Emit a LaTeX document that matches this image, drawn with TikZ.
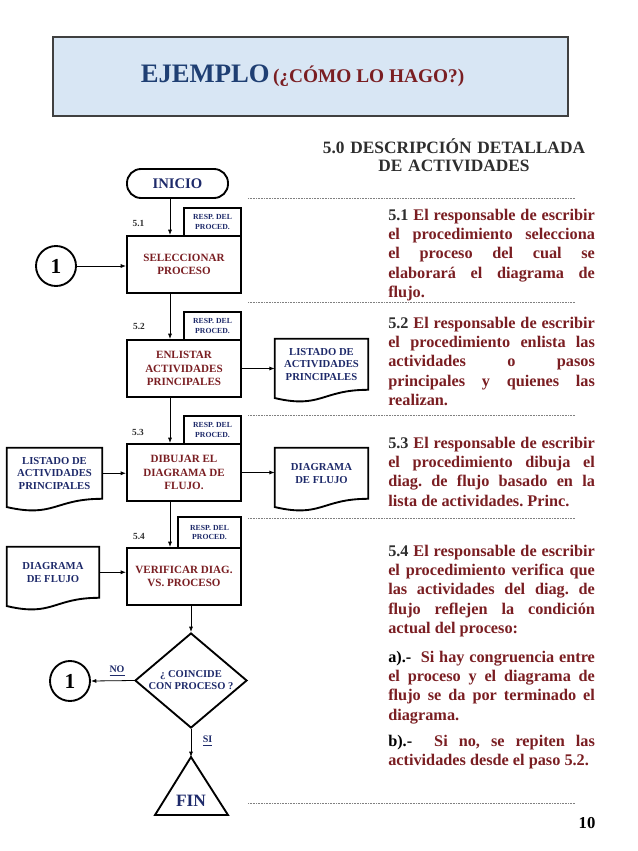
\documentclass[tikz,border=0pt]{standalone}
\usepackage{fontspec}
\setmainfont{Liberation Serif}
\usetikzlibrary{shapes.geometric,arrows.meta,calc}
\definecolor{navy}{HTML}{1E2A6A}
\definecolor{dred}{HTML}{7A1E22}
\definecolor{tblue}{HTML}{1F3F73}
\definecolor{hfill}{HTML}{D8E6F4}
\definecolor{numgray}{HTML}{2E2E2E}
\newcommand\docpath[1]{\draw[line width=1.4pt] (#1.north west) -- (#1.north east) -- (#1.south east) .. controls (#1.south) and ([yshift=-14.4pt]#1.south) .. ([yshift=-6.2pt]#1.south west) -- cycle;}
\tolerance=10000 \hbadness=10000 \hyphenpenalty=10000
\frenchspacing
\begin{document}
\begin{tikzpicture}[x=0.75pt,y=-0.75pt,
  box/.style={draw, line width=1.4pt, fill=white, minimum width=85.5pt, minimum height=42.75pt, inner sep=1pt, align=center, font=\bfseries\fontsize{8.3}{10}\selectfont, text=dred},
  resp/.style={draw, line width=1.3pt, fill=white, minimum width=42.75pt, minimum height=21pt, inner sep=0.5pt, align=center, font=\bfseries\fontsize{5.8}{7.4}\selectfont, text=navy},
  docn/.style={minimum height=37.9pt, inner sep=0, align=center, font=\bfseries\fontsize{8}{9.4}\selectfont, text=navy},
  arr/.style={-{Latex[length=4pt,width=3pt]}, line width=0.6pt},
  numlbl/.style={font=\bfseries\fontsize{7}{8}\selectfont, text=numgray},
  para/.style={anchor=base west, text width=155pt, align=justify, inner sep=0, font=\bfseries\fontsize{12.2}{14.6}\selectfont, text=dred},
  dots/.style={line width=0.5pt, gray, dash pattern=on 0.5pt off 0.7pt},
  conn/.style={circle, draw, line width=1.4pt, minimum size=30pt, inner sep=0, font=\bfseries\fontsize{16}{18}\selectfont},
  ylbl/.style={font=\bfseries\fontsize{7.5}{9}\selectfont, text=navy}
]
\useasboundingbox (0,0) rectangle (638,851);
% header
\node[draw=darkgray, line width=0.8pt, fill=hfill, minimum width=386.25pt, minimum height=59.25pt, inner sep=0] (hdr) at (310.5,76.5) {};
\node[anchor=base, inner sep=0] (title) at (302.5,82) {\bfseries{\fontsize{20}{24}\selectfont\color{tblue}EJEMPLO} {\fontsize{14.5}{16}\selectfont\color{dred}(¿CÓMO LO HAGO?)}};
% heading
\node[anchor=base, text width=210pt, align=center, inner sep=0, font=\bfseries\fontsize{13}{13.5}\selectfont, text=numgray] (h50) at (454,153) {5.0 DESCRIPCIÓN DETALLADA\\DE ACTIVIDADES};
% dotted separators
\foreach \yy in {198,302,415,518,803} \draw[dots] (248,\yy) -- (575,\yy);
% flowchart
\coordinate (ax) at (170,0);
\node[draw, rounded corners=10.5pt, minimum width=75.75pt, minimum height=21.75pt, line width=1.4pt, font=\bfseries\fontsize{11}{12}\selectfont, text=navy] (inicio) at (177.5,183.5) {INICIO};
\node[box] (sel) at (184,264.5) {SELECCIONAR\\PROCESO};
\node[resp] (r1) at (212.5,222) {RESP. DEL\\PROCED.};
\node[numlbl] (n1) at (138.5,223) {5.1};
\node[box] (enl) at (184,368.5) {ENLISTAR\\ACTIVIDADES\\PRINCIPALES};
\node[resp] (r2) at (212.5,326) {RESP. DEL\\PROCED.};
\node[numlbl] (n2) at (139,326) {5.2};
\node[box] (dib) at (184,472.5) {DIBUJAR EL\\DIAGRAMA DE\\FLUJO.};
\node[resp] (r3) at (212.5,430) {RESP. DEL\\PROCED.};
\node[numlbl] (n3) at (138,432) {5.3};
\node[box] (ver) at (184,576.5) {VERIFICAR DIAG.\\VS. PROCESO};
\node[resp, minimum width=47.25pt, minimum height=23.25pt] (r4) at (209.5,532.5) {RESP. DEL\\PROCED.};
\node[numlbl] (n4) at (139,536) {5.4};
\node[conn] (c1) at (56,266) {1};
\node[docn, minimum width=69.75pt] (dR1) at (321.5,364.25) {LISTADO DE\\ACTIVIDADES\\PRINCIPALES};
\docpath{dR1}
\node[docn, minimum width=71.25pt] (dL1) at (54.5,473.25) {LISTADO DE\\ACTIVIDADES\\PRINCIPALES};
\docpath{dL1}
\node[docn, minimum width=69.75pt] (dR2) at (321.5,473.25) {DIAGRAMA\\DE FLUJO};
\docpath{dR2}
\node[docn, minimum width=69pt] (dL2) at (53,572.25) {DIAGRAMA\\DE FLUJO};
\docpath{dL2}
\node[diamond, draw, line width=1.4pt, minimum width=84pt, minimum height=71.25pt, inner sep=0] (dia) at (191,680.5) {};
\node[align=center, inner sep=0, font=\bfseries\fontsize{7.9}{9}\selectfont, text=navy] (diat) at (dia.center) {¿ COINCIDE\\CON PROCESO ?};
\node[conn] (c2) at (70,681) {1};
\coordinate (fintop) at (191,757);
\coordinate (finr) at (228,815);
\coordinate (finl) at (155,815);
\draw[line width=1.4pt] (fintop) -- (finr) -- (finl) -- cycle;
\node[font=\bfseries\fontsize{13}{14}\selectfont, text=navy] (fin) at (191,801) {FIN};
\node[ylbl] (no) at (117,671) {\underline{NO}};
\node[ylbl] (si) at (207.5,741) {\underline{SI}};
% connectors
\draw[arr] (inicio.south -| ax) -- (sel.north -| ax);
\draw[arr] (c1) -- (sel.west |- c1);
\draw[arr] (sel.south -| ax) -- (enl.north -| ax);
\draw[arr] (enl.east) -- (enl.east -| dR1.west);
\draw[arr] (enl.south -| ax) -- (dib.north -| ax);
\draw[arr] (dL1.east) -- (dL1.east -| dib.west);
\draw[arr] (dib.east) -- (dib.east -| dR2.west);
\draw[arr] (dib.south -| ax) -- (ver.north -| ax);
\draw[arr] (dL2.east) -- (dL2.east -| ver.west);
\draw[arr] (ver.south -| dia.north) -- (dia.north);
\draw[arr] (dia.west) -- (c2.east);
\draw[arr] (dia.south) -- (fintop);
% descriptions
\node[para] (p51) at (388,220) {{\color{numgray}5.1} El responsable de escribir\linebreak el procedimiento selecciona\linebreak el proceso del cual se\linebreak elaborará el diagrama de\linebreak flujo.};
\node[para] (p52) at (388,328) {{\color{numgray}5.2} El responsable de escribir\linebreak el procedimiento enlista las\linebreak actividades o pasos\linebreak principales y quienes las\linebreak realizan.};
\node[para] (p53) at (388,448) {{\color{numgray}5.3} El responsable de escribir\linebreak el procedimiento dibuja el\linebreak diag. de flujo basado en la\linebreak lista de actividades. Princ.};
\node[para] (p54) at (388,556) {{\color{numgray}5.4} El responsable de escribir\linebreak el procedimiento verifica que\linebreak las actividades del diag. de\linebreak flujo reflejen la condición\linebreak actual del proceso:};
\node[para] (pa) at (388,662) {{\color{black}a).-}\ \ Si hay congruencia entre\linebreak el proceso y el diagrama de\linebreak flujo se da por terminado el\linebreak diagrama.};
\node[para] (pb) at (388,746) {{\color{black}b).-}\ \ Si no, se repiten las\linebreak actividades desde el paso 5.2.};
\node[font=\bfseries\fontsize{12.5}{14}\selectfont] (pg) at (587,823) {10};
\end{tikzpicture}
\end{document}
